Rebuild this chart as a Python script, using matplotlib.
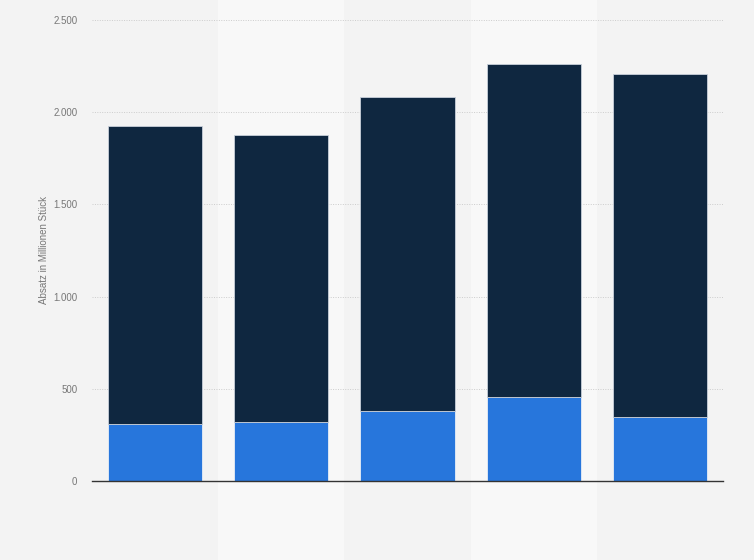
import matplotlib
matplotlib.use("Agg")
import matplotlib.pyplot as plt
from matplotlib.ticker import FuncFormatter

plt.rcParams["font.family"] = ["Liberation Sans", "DejaVu Sans"]

# values (Millionen Stück)
years = ["1", "2", "3", "4", "5"]
lower_part = [309, 320, 380, 456, 347]
totals = [1925, 1876, 2082, 2261, 2207]
upper_part = [t - l for t, l in zip(totals, lower_part)]

y_ticks = [0, 500, 1000, 1500, 2000, 2500]

dark_blue = "#0f2740"
light_blue = "#2776dc"
bg = "#f3f3f3"
band = "#f8f8f8"


def de_fmt(v, pos):
    return f"{int(v):,}".replace(",", ".")


fig = plt.figure(figsize=(7.54, 5.6), dpi=100, facecolor=bg)
ax = fig.add_axes([92 / 754, 1 - 481 / 560, 631 / 754, 461 / 560])
ax.set_facecolor(bg)

x = list(range(len(years)))

# alternating light column bands over the full height
for i in x:
    if i % 2 == 1:
        ax.axvspan(i - 0.5, i + 0.5, ymin=-0.2, ymax=1.05, color=band,
                   zorder=0, clip_on=False, lw=0)

ax.bar(x, lower_part, width=0.745, color=light_blue, edgecolor="#e8eef6",
       linewidth=0.6, zorder=3)
ax.bar(x, upper_part, bottom=lower_part, width=0.745, color=dark_blue,
       edgecolor="#c8d0da", linewidth=0.6, zorder=3)

ax.set_xlim(-0.5, 4.5)
ax.set_ylim(0, 2500)
ax.set_yticks(y_ticks)
ax.yaxis.set_major_formatter(FuncFormatter(de_fmt))
ax.set_xticks([])

ax.grid(axis="y", color="#cccccc", linestyle=(0, (1, 1.5)), linewidth=0.7, zorder=1)
ax.set_axisbelow(True)

for side in ["top", "right", "left"]:
    ax.spines[side].set_visible(False)
ax.spines["bottom"].set_color("#333333")
ax.spines["bottom"].set_linewidth(1.0)
ax.spines["bottom"].set_zorder(4)

ax.tick_params(axis="y", length=0, pad=10.5, labelsize=7, labelcolor="#777777")
ax.set_ylabel("Absatz in Millionen Stück", fontsize=7, color="#777777", labelpad=3)

fig.savefig("out.png", dpi=100, facecolor=bg)
